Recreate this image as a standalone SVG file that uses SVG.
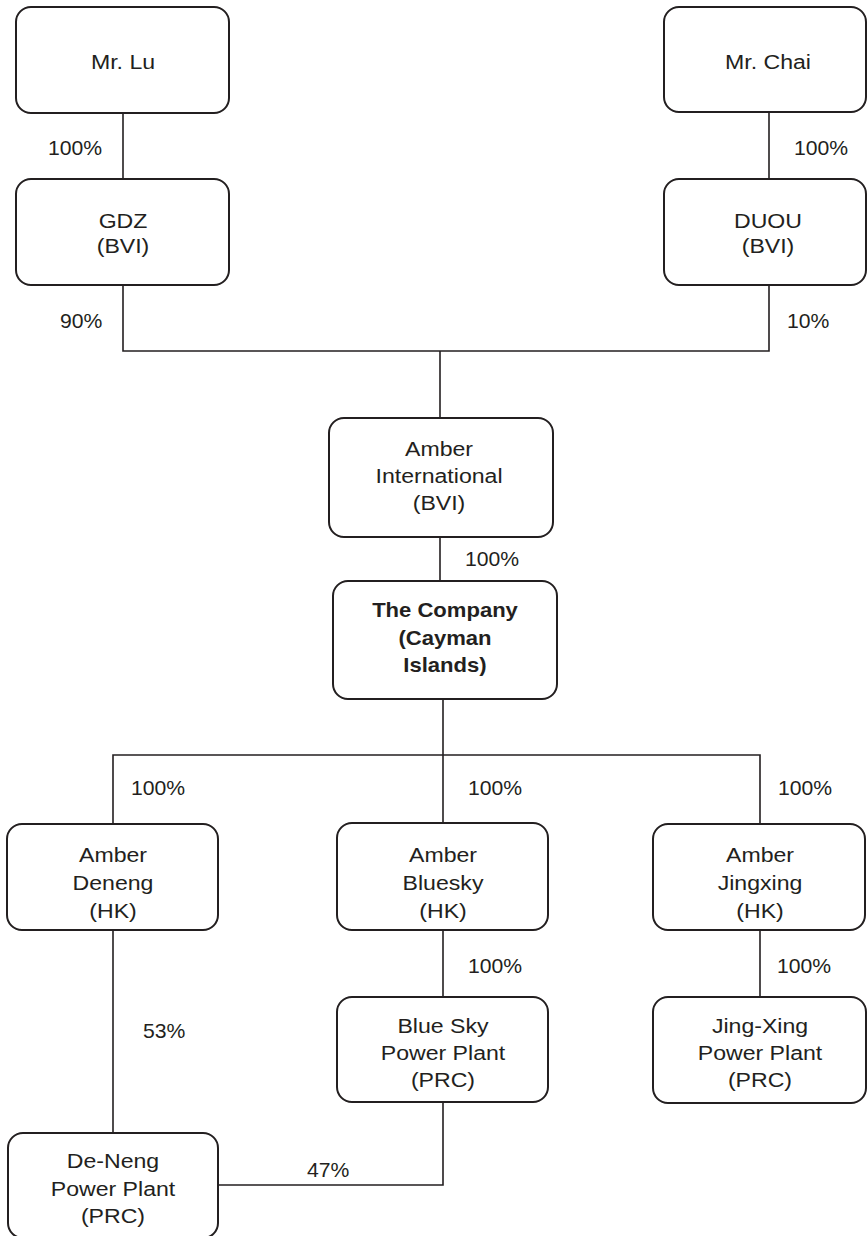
<svg xmlns="http://www.w3.org/2000/svg" width="867" height="1236" viewBox="0 0 867 1236">
<style>
.box{fill:#fff;stroke:#231f20;stroke-width:2}
.ln{fill:none;stroke:#231f20;stroke-width:1.6}
.t{font-family:"Liberation Sans",Arial,sans-serif;font-size:21px;fill:#231f20;text-anchor:middle}
.b{font-weight:bold}
.p{font-family:"Liberation Sans",Arial,sans-serif;font-size:20px;fill:#231f20;text-anchor:start}
</style>
<rect width="867" height="1236" fill="#fff"/>
<g id="connectors">
<path class="ln" d="M123 113V179"/>
<path class="ln" d="M769 112V179"/>
<path class="ln" d="M123 285V351H769V285"/>
<path class="ln" d="M440 351V418"/>
<path class="ln" d="M440 537V581"/>
<path class="ln" d="M443 699V755"/>
<path class="ln" d="M113 824V755H760V824"/>
<path class="ln" d="M443 755V823"/>
<path class="ln" d="M113 930V1133"/>
<path class="ln" d="M443 930V997"/>
<path class="ln" d="M760 930V997"/>
<path class="ln" d="M443 1102V1185H218"/>
<g id="labels">
<text class="p" transform="translate(48 155) scale(1.06 1)">100%</text>
<text class="p" transform="translate(794 155) scale(1.06 1)">100%</text>
<text class="p" transform="translate(60 328) scale(1.06 1)">90%</text>
<text class="p" transform="translate(787 328) scale(1.06 1)">10%</text>
<text class="p" transform="translate(465 566) scale(1.06 1)">100%</text>
<text class="p" transform="translate(131 795) scale(1.06 1)">100%</text>
<text class="p" transform="translate(468 795) scale(1.06 1)">100%</text>
<text class="p" transform="translate(778 795) scale(1.06 1)">100%</text>
<text class="p" transform="translate(468 973) scale(1.06 1)">100%</text>
<text class="p" transform="translate(777 973) scale(1.06 1)">100%</text>
<text class="p" transform="translate(143 1038) scale(1.06 1)">53%</text>
<text class="p" transform="translate(307 1177) scale(1.06 1)">47%</text>
</g>
</g>
<g id="mr-lu">
<rect class="box" x="16" y="7" width="213" height="106" rx="15"/>
<text class="t" transform="translate(123 69) scale(1.1 1)">Mr. Lu</text>
</g>
<g id="mr-chai">
<rect class="box" x="664" y="7" width="202" height="105" rx="15"/>
<text class="t" transform="translate(768 69) scale(1.1 1)">Mr. Chai</text>
</g>
<g id="gdz">
<rect class="box" x="16" y="179" width="213" height="106" rx="15"/>
<text class="t" transform="translate(123 228) scale(1.1 1)">GDZ</text>
<text class="t" transform="translate(123 253) scale(1.1 1)">(BVI)</text>
</g>
<g id="duou">
<rect class="box" x="664" y="179" width="202" height="106" rx="15"/>
<text class="t" transform="translate(768 228) scale(1.1 1)">DUOU</text>
<text class="t" transform="translate(768 253) scale(1.1 1)">(BVI)</text>
</g>
<g id="amber-international">
<rect class="box" x="329" y="418" width="224" height="119" rx="15"/>
<text class="t" transform="translate(439 456) scale(1.1 1)">Amber</text>
<text class="t" transform="translate(439 483) scale(1.1 1)">International</text>
<text class="t" transform="translate(439 510) scale(1.1 1)">(BVI)</text>
</g>
<g id="the-company">
<rect class="box" x="333" y="581" width="224" height="118" rx="15"/>
<text class="t b" transform="translate(445 617) scale(1.05 1)">The Company</text>
<text class="t b" transform="translate(445 645) scale(1.05 1)">(Cayman</text>
<text class="t b" transform="translate(445 672) scale(1.05 1)">Islands)</text>
</g>
<g id="amber-deneng">
<rect class="box" x="7" y="824" width="211" height="106" rx="15"/>
<text class="t" transform="translate(113 862) scale(1.1 1)">Amber</text>
<text class="t" transform="translate(113 890) scale(1.1 1)">Deneng</text>
<text class="t" transform="translate(113 918) scale(1.1 1)">(HK)</text>
</g>
<g id="amber-bluesky">
<rect class="box" x="337" y="823" width="211" height="107" rx="15"/>
<text class="t" transform="translate(443 862) scale(1.1 1)">Amber</text>
<text class="t" transform="translate(443 890) scale(1.1 1)">Bluesky</text>
<text class="t" transform="translate(443 918) scale(1.1 1)">(HK)</text>
</g>
<g id="amber-jingxing">
<rect class="box" x="653" y="824" width="212" height="106" rx="15"/>
<text class="t" transform="translate(760 862) scale(1.1 1)">Amber</text>
<text class="t" transform="translate(760 890) scale(1.1 1)">Jingxing</text>
<text class="t" transform="translate(760 918) scale(1.1 1)">(HK)</text>
</g>
<g id="blue-sky-power-plant">
<rect class="box" x="337" y="997" width="211" height="105" rx="15"/>
<text class="t" transform="translate(443 1033) scale(1.1 1)">Blue Sky</text>
<text class="t" transform="translate(443 1060) scale(1.1 1)">Power Plant</text>
<text class="t" transform="translate(443 1087) scale(1.1 1)">(PRC)</text>
</g>
<g id="jing-xing-power-plant">
<rect class="box" x="653" y="997" width="213" height="106" rx="15"/>
<text class="t" transform="translate(760 1033) scale(1.1 1)">Jing-Xing</text>
<text class="t" transform="translate(760 1060) scale(1.1 1)">Power Plant</text>
<text class="t" transform="translate(760 1087) scale(1.1 1)">(PRC)</text>
</g>
<g id="de-neng-power-plant">
<rect class="box" x="8" y="1133" width="210" height="105" rx="15"/>
<text class="t" transform="translate(113 1168) scale(1.1 1)">De-Neng</text>
<text class="t" transform="translate(113 1196) scale(1.1 1)">Power Plant</text>
<text class="t" transform="translate(113 1223) scale(1.1 1)">(PRC)</text>
</g>
</svg>
